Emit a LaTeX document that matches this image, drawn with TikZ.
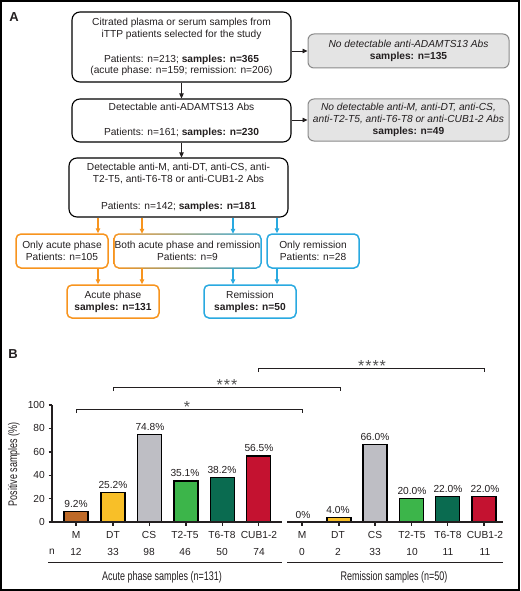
\documentclass[tikz,border=0pt]{standalone}
\usepackage{fontspec}
\setmainfont{Liberation Sans}
\usepackage{graphicx}
\usetikzlibrary{arrows.meta,calc}
\definecolor{orng}{HTML}{F7941E}
\definecolor{blu}{HTML}{29A9E0}
\definecolor{txtc}{HTML}{231F20}
\definecolor{greyfill}{HTML}{E4E4E4}
\definecolor{greyline}{HTML}{8A8A8A}
\definecolor{cM}{HTML}{BE6A28}
\definecolor{cDT}{HTML}{F8BF28}
\definecolor{cCS}{HTML}{BEBEC4}
\definecolor{cT2}{HTML}{3CB54A}
\definecolor{cT6}{HTML}{0A6B50}
\definecolor{cCUB}{HTML}{C41230}
\definecolor{starc}{HTML}{505050}
\newcommand{\chartbar}[3]{\filldraw[fill=#3, draw=black, line width=1.2pt] ({#1-12},522) rectangle ({#1+12},{522-1.17*#2});}
\begin{document}
\begin{tikzpicture}[x=1pt,y=-1pt,
  txt/.style={font=\fontsize{10.2}{11.8}\selectfont, text=txtc, align=center, inner sep=0pt},
  mainbox/.style={txt, draw=black, line width=1.1pt, rounded corners=8pt},
  greybox/.style={txt, draw=greyline, fill=greyfill, line width=1pt, rounded corners=6pt},
  obox/.style={txt, draw=orng, line width=1.5pt, rounded corners=5pt, minimum width=92pt},
  bbox/.style={txt, draw=blu, line width=1.5pt, rounded corners=5pt, minimum width=92pt},
  karrow/.style={draw=txtc, line width=0.8pt, -{Triangle[length=5pt,width=4.5pt]}},
  oarrow/.style={draw=orng, line width=1.1pt, -{Triangle[length=5pt,width=4.5pt]}},
  barrow/.style={draw=blu, line width=1.1pt, -{Triangle[length=5pt,width=4.5pt]}},
  axisline/.style={draw=txtc, line width=1.4pt},
  thinline/.style={draw=txtc, line width=1pt},
  brk/.style={draw=txtc, line width=1pt},
  ctxt/.style={font=\fontsize{10.2}{12}\selectfont, text=txtc, inner sep=0pt},
  startxt/.style={font=\fontsize{16}{16}\selectfont, text=starc, inner sep=0pt, anchor=base},
  cond/.style={font=\fontsize{12.5}{13}\selectfont, text=txtc, inner sep=0pt},
  panel/.style={font=\bfseries\fontsize{13}{13}\selectfont, text=txtc, inner sep=0pt}
]
\useasboundingbox (0,0) rectangle (520,591);
\draw[black, line width=1.6pt] (0.8,0.8) rectangle (519.2,590.2);

% ---------- Panel A ----------
\node[panel] (lblA) at (14,17) {A};

\node[mainbox, minimum width=219pt, minimum height=70pt] (box1) at (181.5,47)
 {Citrated plasma or serum samples from\\ iTTP patients selected for the study\\[13pt]
  Patients: n=213; \textbf{samples: n=365}\\ (acute phase: n=159; remission: n=206)};
\node[mainbox, minimum width=219pt, minimum height=43pt] (box2) at (181.5,120.5)
 {Detectable anti-ADAMTS13 Abs\\[13pt] Patients: n=161; \textbf{samples: n=230}};
\node[mainbox, minimum width=219pt, minimum height=59pt] (box3) at (178.5,187.5)
 {Detectable anti-M, anti-DT, anti-CS, anti-\\ T2-T5, anti-T6-T8 or anti-CUB1-2 Abs\\[15pt]
  Patients: n=142; \textbf{samples: n=181}};

\node[greybox, minimum width=201pt, minimum height=34pt] (g1) at (408.5,51)
 {\textit{No detectable anti-ADAMTS13 Abs}\\ \textbf{samples: n=135}};
\node[greybox, minimum width=201pt, minimum height=42pt] (g2) at (408.5,120)
 {\textit{No detectable anti-M, anti-DT, anti-CS,}\\ \textit{anti-T2-T5, anti-T6-T8 or anti-CUB1-2 Abs}\\ \textbf{samples: n=49}};

\draw[karrow] (box1.south) -- (box1.south |- box2.north);
\draw[karrow] (box2.south) -- (box2.south |- box3.north);
\draw[karrow] (box1.east |- g1.west) -- (g1.west);
\draw[karrow] (box2.east |- g2.west) -- (g2.west);

% gradient border for the middle box
\shade[left color=orng, right color=blu, rounded corners=5.5pt] (113.25,233.25) rectangle (261.75,268.75);
\fill[white, rounded corners=4.5pt] (114.75,234.75) rectangle (260.25,267.25);

\node[obox, minimum height=34pt] (onlyacute) at (62,251) {Only acute phase\\ Patients: n=105};
\node[txt, minimum width=147pt, minimum height=34pt] (both) at (187.5,251) {Both acute phase and remission\\ Patients: n=9};
\node[bbox, minimum height=34pt] (onlyrem) at (313,251) {Only remission\\ Patients: n=28};
\node[obox, minimum height=33pt] (acute) at (113,301.5) {Acute phase\\ \textbf{samples: n=131}};
\node[bbox, minimum height=33pt] (rem) at (250,301.5) {Remission\\ \textbf{samples: n=50}};

\coordinate (xa) at (98,0);
\coordinate (xb) at (142,0);
\coordinate (xc) at (233,0);
\coordinate (xd) at (277,0);
\draw[oarrow] (box3.south -| xa) -- (onlyacute.north -| xa);
\draw[oarrow] (box3.south -| xb) -- (both.north -| xb);
\draw[barrow] (box3.south -| xc) -- (both.north -| xc);
\draw[barrow] (box3.south -| xd) -- (onlyrem.north -| xd);
\draw[oarrow] (onlyacute.south -| xa) -- (acute.north -| xa);
\draw[oarrow] (both.south -| xb) -- (acute.north -| xb);
\draw[barrow] (both.south -| xc) -- (rem.north -| xc);
\draw[barrow] (onlyrem.south -| xd) -- (rem.north -| xd);

% ---------- Panel B ----------
\node[panel] (lblB) at (13,354) {B};

% brackets
\draw[brk] (76,413) -- (76,409) -- (302,409) -- (302,413);
\node[startxt] (s1) at (187,412) {*};
\draw[brk] (113,391) -- (113,387) -- (340,387) -- (340,391);
\node[startxt] (s3) at (227,390) {*\kern1pt*\kern1pt*};
\draw[brk] (258,372) -- (258,368) -- (484,368) -- (484,372);
\node[startxt] (s4) at (372,371) {*\kern1pt*\kern1pt*\kern1pt*};

% bars acute
\chartbar{76}{9.2}{cM}
\chartbar{113}{25.2}{cDT}
\chartbar{149.5}{74.8}{cCS}
\chartbar{186}{35.1}{cT2}
\chartbar{222.5}{38.2}{cT6}
\chartbar{258.7}{56.5}{cCUB}
% bars remission
\chartbar{339}{4.0}{cDT}
\chartbar{375}{66.0}{cCS}
\chartbar{411.5}{20.0}{cT2}
\chartbar{447.5}{22.0}{cT6}
\chartbar{484}{22.0}{cCUB}

% axes
\draw[axisline] (52,405) -- (52,522) -- (282,522);
\draw[axisline] (287,522) -- (503,522);
\foreach \v in {0,20,40,60,80,100} {
  \draw[axisline] (48.5,{522-1.17*\v}) -- (52,{522-1.17*\v});
  \node[ctxt, anchor=east] at (45,{522-1.17*\v}) {\v};
}
\foreach \x in {76,113,149.5,186,222.5,258.7,302,339,375,411.5,447.5,484} {
  \draw[axisline] (\x,522) -- (\x,525.5);
}
\node[cond, rotate=90] (ylab) at (14,464) {\scalebox{0.72}[1]{Positive samples (\%)}};

% percent labels
\foreach \x/\v/\t in {76/9.2/9.2\%, 113/25.2/25.2\%, 150/74.8/74.8\%, 185/35.1/35.1\%, 222/38.2/38.2\%, 259/56.5/56.5\%,
  303/0/0\%, 338/4.0/4.0\%, 375/66.0/66.0\%, 412/20.0/20.0\%, 448/22.0/22.0\%, 485/22.0/22.0\%} {
  \node[ctxt] at (\x,{522-1.17*\v-7.5}) {\t};
}

% category labels
\foreach \x/\t/\n in {76/M/12, 113/DT/33, 149/CS/98, 185/T2-T5/46, 222/T6-T8/50, 259/CUB1-2/74,
  302/M/0, 338/DT/2, 375/CS/33, 412/T2-T5/10, 448/T6-T8/11, 485/CUB1-2/11} {
  \node[ctxt] at (\x,535) {\t};
  \node[ctxt] at (\x,552) {\n};
}
\node[ctxt] (nlab) at (52,552) {n};

\draw[thinline] (48,562) -- (282,562);
\draw[thinline] (287,562) -- (503,562);
\node[cond] (glab1) at (162,577) {\scalebox{0.72}[1]{Acute phase samples (n=131)}};
\node[cond] (glab2) at (394,577) {\scalebox{0.72}[1]{Remission samples (n=50)}};
\end{tikzpicture}
\end{document}
